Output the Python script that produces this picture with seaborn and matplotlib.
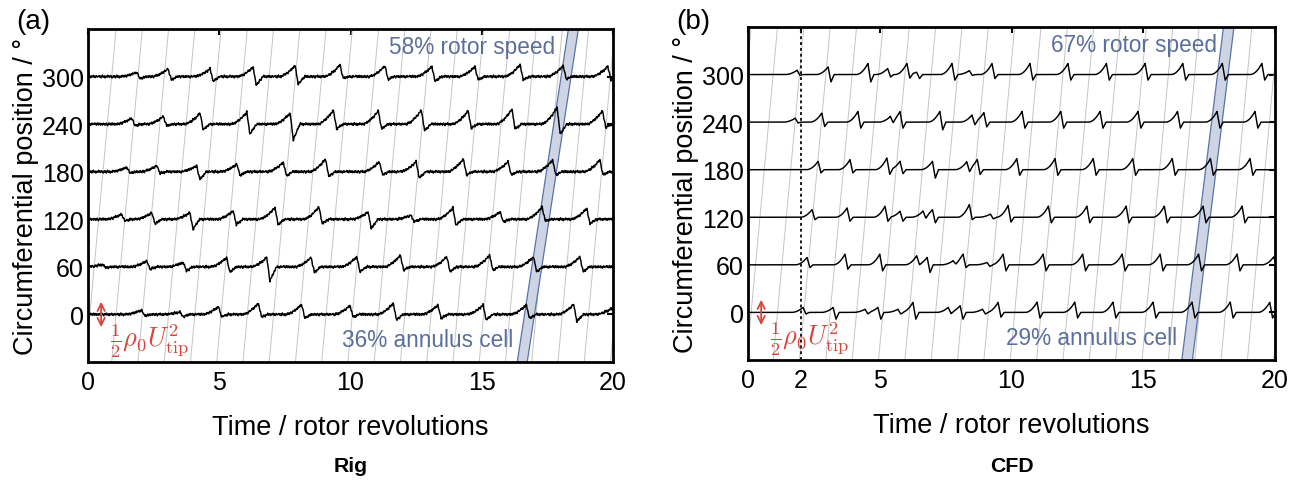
import numpy as np
import pandas as pd
import matplotlib
matplotlib.use("Agg")
import matplotlib.pyplot as plt
import seaborn as sns

# ---------------------------------------------------------------- data
positions = [0, 60, 120, 180, 240, 300]          # probe positions / deg
x_ticks_rig = [0, 5, 10, 15, 20]
x_ticks_cfd = [0, 2, 5, 10, 15, 20]
y_ticks = [0, 60, 120, 180, 240, 300]

# Stall-cell passages per probe: (time / rev, peak rise, dip depth),
# pressure expressed in trace units (1/2 rho U_tip^2 = 39 units)
rig_0 = [(2.04, 5.5, 2), (3.5, 3, 3), (4.97, 9.7, 3), (6.49, 13.8, 3), (8.14, 12.6, 5),
         (9.98, 11, 3), (11.63, 14, 7), (13.33, 11.8, 5), (15.05, 11.8, 7), (16.7, 11.8, 5),
         (18.5, 12.6, 9), (19.95, 7.5, 0)]
rig_60 = [(0.55, 3, 1), (2.24, 7.5, 3), (3.63, 5.5, 5), (5.28, 11.8, 7), (6.81, 11.8, 17.6),
          (8.5, 11.8, 7), (10.24, 12.6, 6.3), (11.9, 14.7, 4), (13.67, 12.6, 6), (15.3, 14.7, 4),
          (16.97, 12.6, 6), (18.74, 12.6, 6)]
rig_120 = [(1.28, 6.3, 2), (2.43, 8.4, 6), (3.88, 8.4, 12.6), (5.53, 10.5, 6.7), (7.12, 14.7, 6.7),
           (8.8, 15.5, 5.5), (10.67, 9.2, 11.8), (12.3, 5, 3), (13.9, 14.3, 7.5), (15.7, 9.2, 3.4),
           (17.3, 15.5, 2), (19.0, 13.4, 5.5)]
rig_180 = [(1.48, 5.5, 2), (2.62, 7.5, 2), (4.14, 7.5, 10), (5.67, 9.7, 5), (7.44, 11.8, 5),
           (9.05, 16, 6), (11.1, 12.6, 4), (12.5, 12.6, 8), (14.3, 16, 4), (16.0, 12.6, 4),
           (17.7, 14.7, 4), (19.5, 14.7, 4)]
rig_240 = [(1.67, 7.5, 2), (2.87, 9.7, 2), (4.27, 13.8, 7), (6.05, 15, 12.6), (7.7, 13.8, 20),
           (9.35, 17.6, 6), (11.06, 16.8, 6), (12.7, 17.6, 8), (14.48, 16.8, 5), (16.15, 18.9, 6),
           (17.87, 21, 12.6), (19.6, 16.8, 4)]
rig_300 = [(1.86, 5.5, 3), (3.05, 9.7, 4), (4.65, 9.7, 6), (6.29, 11.7, 11), (7.89, 13.8, 9.7),
           (9.6, 14.7, 2), (11.31, 13.4, 3.4), (13.1, 12.6, 6), (14.74, 12.6, 4), (16.46, 14.7, 4),
           (18.1, 13.4, 3), (19.8, 12.6, 4)]

cfd_0 = [(2.09, 6.3, 2), (3.23, 6.3, 8.5), (4.44, 4, 2), (4.93, 6.3, 8.5), (5.69, 4, 2),
         (6.26, 12.7, 8.5), (7.6, 6.3, 2), (8.05, 8.5, 8.5), (8.9, 4, 2), (9.49, 12.7, 6),
         (10.97, 13, 7), (12.4, 13, 7), (13.85, 13, 7), (15.37, 13, 7), (16.85, 13, 7),
         (18.3, 13, 7), (19.8, 12.7, 7)]
cfd_60 = [(2.24, 9.3, 3.4), (3.68, 13.5, 5.5), (5.0, 13.5, 7.6), (6.4, 11.4, 1), (6.8, 9.3, 9.7),
          (7.78, 5, 1), (8.16, 13.5, 3.4), (9.07, 3, 2), (9.68, 13.5, 7.6), (11.2, 13.5, 7.6),
          (12.7, 13.5, 7.6), (14.2, 13.5, 7.6), (15.64, 13.5, 7.6), (17.1, 13.5, 7.6),
          (18.56, 13.5, 7.6), (19.95, 10, 0)]
cfd_120 = [(2.43, 9.7, 3), (3.76, 11.8, 5), (5.2, 14, 5), (5.77, 7.6, 5), (6.64, 7.6, 3),
           (7.0, 9.7, 7), (8.4, 16, 3), (9.2, 4, 2), (9.87, 14.8, 6), (11.4, 14, 7),
           (12.86, 14, 7), (14.35, 14, 7), (15.8, 14, 7), (17.27, 14, 7), (18.75, 14, 7)]
cfd_180 = [(2.66, 10.6, 4), (3.87, 12.7, 4), (5.27, 14.8, 6), (5.77, 10.6, 5), (7.0, 10.6, 10.6),
           (8.3, 10, 4), (8.7, 13, 6), (10.2, 14, 7), (11.65, 14, 7), (13.1, 14, 7),
           (14.6, 14, 7), (16.1, 14, 7), (17.55, 14, 7), (19.05, 14, 7)]
cfd_240 = [(1.79, 5, 1), (2.8, 11.4, 5.5), (4.17, 13.5, 7.6), (5.4, 7, 3), (5.77, 13.5, 7.6),
           (7.28, 13.5, 9.7), (8.5, 9, 4), (8.95, 12, 6), (10.4, 13.5, 7.6), (11.87, 13.5, 7.6),
           (13.36, 13.5, 7.6), (14.8, 13.5, 7.6), (16.3, 13.5, 7.6), (17.8, 13.5, 7.6),
           (19.24, 13.5, 7.6)]
cfd_300 = [(1.86, 5.5, 1), (3.04, 9.7, 9.3), (4.55, 14, 9.3), (5.3, 7.6, 3), (6.03, 14, 5),
           (6.4, 3, 5), (7.74, 14, 7), (8.4, 5, 1), (9.26, 14, 5), (10.7, 14, 7), (12.14, 14, 7),
           (13.6, 14, 7), (15.07, 14, 7), (16.5, 14, 7), (18.0, 14, 7), (19.5, 14, 7)]

# Rig transducer background fluctuation (trace units)
rig_ripple = [0.0, 1.2, -0.6, 0.9, -1.3, 0.4, 1.5, -0.8, -0.2, 1.0, -1.4, 0.6, 0.1, -0.9,
              1.3, -0.3, 0.8, -1.1, 0.5, 1.1, -0.7, -1.5, 0.9, 0.3, -0.4, 1.4, -1.0, 0.2,
              0.7, -1.2, 1.0, -0.5, -0.1, 1.2, -0.9, 0.6, -1.3, 0.4, 1.1, -0.6, 0.0]

# Stall-cell trajectories: time at 0 deg, revolutions per degree, width
band_rig = (16.82, 0.00464, 0.38)
band_cfd = (16.89, 0.00376, 0.40)
rotor_offset_rig = 0.07
rotor_offset_cfd = 0.12

rig_text = ("58% rotor speed", "36% annulus cell")
cfd_text = ("67% rotor speed", "29% annulus cell")
dyn_head = 39.0   # trace units for 1/2 rho0 U_tip^2

# ---------------------------------------------------------------- helpers
def pulse(t, tp, peak, dip, rise, power, fall, settle):
    s = t - tp
    y = np.zeros_like(t)
    m = (s >= -rise) & (s < 0)
    y[m] = peak * ((s[m] + rise) / rise) ** power
    m = (s >= 0) & (s < fall)
    y[m] = peak - (peak + dip) * s[m] / fall
    m = (s >= fall) & (s < fall + settle)
    y[m] = -dip * (1 - (s[m] - fall) / settle)
    return y


t = np.linspace(0, 20, 2001)


def build(events_by_probe, rise, power, fall, settle, ripple=None, gain=1.0):
    rows = []
    for k, (pos, events) in enumerate(zip(positions, events_by_probe)):
        y = np.zeros_like(t)
        for tp, pk, dp in events:
            y += pulse(t, tp, pk, dp, rise, power, fall, settle)
        if ripple is not None:
            tc = np.arange(0, 20.025, 0.025)
            vals = np.roll(np.resize(np.array(ripple), tc.size), 7 * k + 3)
            y += gain * np.interp(t, tc, vals)
        rows.append(pd.DataFrame({"t": t, "y": pos + y, "probe": pos}))
    return pd.concat(rows, ignore_index=True)


df_rig = build([rig_0, rig_60, rig_120, rig_180, rig_240, rig_300],
               0.6, 1.6, 0.12, 0.25, rig_ripple, 1.25)
df_cfd = build([cfd_0, cfd_60, cfd_120, cfd_180, cfd_240, cfd_300],
               0.45, 2.0, 0.11, 0.12)

# ---------------------------------------------------------------- style
sns.set_theme(style="white")
plt.rcParams["font.family"] = ["Liberation Sans", "DejaVu Sans"]
plt.rcParams["mathtext.fontset"] = "cm"
plt.rcParams["text.color"] = "black"
plt.rcParams["axes.labelcolor"] = "black"
plt.rcParams["xtick.color"] = "black"
plt.rcParams["ytick.color"] = "black"

W, H = 1298, 485
fig = plt.figure(figsize=(W / 100, H / 100), dpi=100)
fig.patch.set_facecolor("white")

RED = "#d6453d"
BLUE_T = "#5b6f9c"
BAND_F = "#cdd4e4"
BAND_E = "#5b73a6"
TICK_FS = 18
LAB_FS = 19.5

axes_px = [(88, 30, 613, 363), (748, 28, 1275, 361)]


def panel(ax, df, band, roff, texts, xticks, cfd):
    ax.set_xlim(0, 20)
    ax.set_ylim(-60, 360)
    # rotor-revolution reference lines
    th = np.array([-60, 360])
    for n in range(-2, 22):
        ax.plot(n + roff + th / 360.0, th, color="#c4c4c4", lw=0.7, zorder=1)
    # stall-cell trajectory
    c0, sl, w = band
    xl = c0 + sl * th
    ax.fill([xl[0] - w / 2, xl[1] - w / 2, xl[1] + w / 2, xl[0] + w / 2],
            [th[0], th[1], th[1], th[0]], facecolor=BAND_F, edgecolor=BAND_E,
            lw=0.9, zorder=2)
    if cfd:
        ax.axvline(2, color="k", lw=1.4, ls=(0, (1.5, 1.5)), zorder=3)
    sns.lineplot(data=df, x="t", y="y", units="probe", estimator=None, sort=False,
                 color="black", lw=1.05, ax=ax, zorder=4, legend=False)
    ax.set_xticks(xticks)
    ax.set_yticks(y_ticks)
    ax.tick_params(direction="in", top=True, right=True, length=4, width=1.5,
                   labelsize=TICK_FS)
    ax.tick_params(axis="x", pad=6)
    ax.tick_params(axis="y", pad=3)
    for s in ax.spines.values():
        s.set_visible(True)
        s.set_color("black")
        s.set_linewidth(2.0)
    ax.set_xlabel("Time / rotor revolutions", fontsize=LAB_FS, labelpad=14)
    ax.set_ylabel("Circumferential position / °", fontsize=LAB_FS, labelpad=2)
    ax.text(17.8, 338, texts[0], color=BLUE_T, fontsize=16.3, ha="right", va="center",
            zorder=5)
    ax.text(16.2 if not cfd else 16.28, -31, texts[1], color=BLUE_T, fontsize=16.3,
            ha="right", va="center", zorder=5)
    ax.annotate("", xy=(0.5, -dyn_head / 2), xytext=(0.5, dyn_head / 2),
                arrowprops=dict(arrowstyle="<->", color=RED, lw=1.3, mutation_scale=13),
                zorder=5)
    ax.text(0.85, -33, r"$\frac{1}{2}\rho_0 U_{\rm tip}^2$", color=RED, fontsize=19,
            ha="left", va="center", zorder=5)
    return ax


for (l, tp, r, b), df, band, roff, texts, xt, letter, title, cfd in [
    (axes_px[0], df_rig, band_rig, rotor_offset_rig, rig_text, x_ticks_rig, "(a)", "Rig", False),
    (axes_px[1], df_cfd, band_cfd, rotor_offset_cfd, cfd_text, x_ticks_cfd, "(b)", "CFD", True),
]:
    ax = fig.add_axes([l / W, 1 - b / H, (r - l) / W, (b - tp) / H])
    panel(ax, df, band, roff, texts, xt, cfd)
    fig.text((l - 72) / W, 1 - 22 / H, letter, fontsize=20, ha="left", va="center")
    fig.text((l + r) / 2 / W, 1 - 467 / H, title, fontsize=15.3, fontweight="bold",
             ha="center", va="center")

fig.savefig("out.png", dpi=100, facecolor="white")
